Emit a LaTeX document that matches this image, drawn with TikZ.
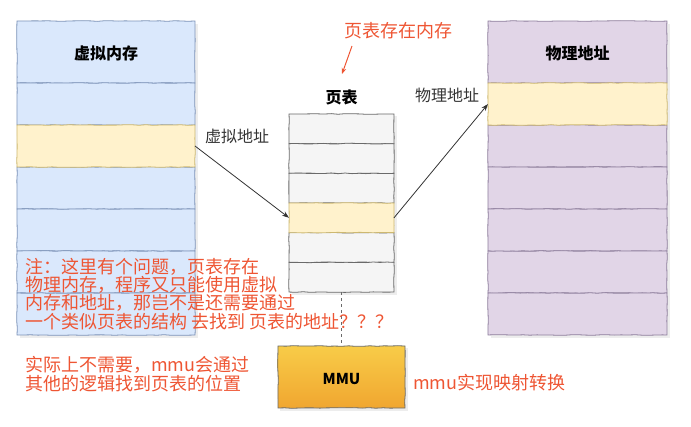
\documentclass[tikz,border=0pt]{standalone}
\usepackage{fontspec}
\setmainfont{Noto Sans CJK SC}
\usetikzlibrary{arrows.meta,decorations.pathmorphing,backgrounds}
\definecolor{vfill}{HTML}{DAE8FC}
\definecolor{vline}{HTML}{7D93B8}
\definecolor{yfill}{HTML}{FFF2CC}
\definecolor{yline}{HTML}{CDB870}
\definecolor{pfill}{HTML}{E1D5E7}
\definecolor{pline}{HTML}{8E7E9C}
\definecolor{gfill}{HTML}{F5F5F5}
\definecolor{gline}{HTML}{6A6A6A}
\definecolor{mtop}{HTML}{F8CC48}
\definecolor{mbot}{HTML}{F0A630}
\definecolor{noteRed}{HTML}{EE5533}
\definecolor{labgray}{HTML}{333333}
\begin{document}
\begin{tikzpicture}[x=1pt,y=-1pt,
  rough/.style={decorate, decoration={random steps, segment length=7pt, amplitude=0.35pt}},
  cell/.style={rectangle, draw, inner sep=0pt, outer sep=0pt, line width=0.8pt, rough},
  vcell/.style={cell, fill=vfill, draw=vline, minimum width=178pt, minimum height=42pt},
  pcell/.style={cell, fill=pfill, draw=pline, minimum width=179pt, minimum height=42pt},
  tcell/.style={cell, fill=gfill, draw=gline, minimum width=105pt, minimum height=29.7pt},
  ycell/.style={fill=yfill, draw=yline},
  headtxt/.style={font=\bfseries\fontsize{16}{18}\selectfont, text=black},
  labtxt/.style={font=\fontsize{16}{18}\selectfont, text=labgray},
  notetxt/.style={font=\fontsize{18}{19}\selectfont, text=noteRed, anchor=west, inner sep=0pt},
  link/.style={draw=labgray, line width=0.8pt, -{Stealth[length=7pt,width=5pt]}},
  shade box/.style={fill=black, opacity=0.07}
]
\useasboundingbox (0,0) rectangle (691,426);
% virtual memory column
\node[vcell, minimum height=62pt] (v0) at (106,52) {};
\node[headtxt] (vt) at (106,53) {虚拟内存};
\node[vcell] (v1) at (106,104) {};
\node[vcell] (v3) at (106,188) {};
\node[vcell] (v4) at (106,230) {};
\node[vcell] (v5) at (106,272) {};
\node[vcell] (v6) at (106,314) {};
\node[vcell, ycell] (v2) at (106,146) {};
% physical memory column
\node[pcell, minimum height=62pt] (r0) at (577.5,52) {};
\node[headtxt] (rt) at (577.5,53) {物理地址};
\node[pcell] (r2) at (577.5,146) {};
\node[pcell] (r3) at (577.5,188) {};
\node[pcell] (r4) at (577.5,230) {};
\node[pcell] (r5) at (577.5,272) {};
\node[pcell] (r6) at (577.5,314) {};
\node[pcell, ycell] (r1) at (577.5,104) {};
% page table
\node[tcell] (p1) at (341.5,128.8) {};
\node[tcell] (p2) at (341.5,158.5) {};
\node[tcell] (p3) at (341.5,188.2) {};
\node[tcell] (p5) at (341.5,247.5) {};
\node[tcell] (p6) at (341.5,277.2) {};
\node[tcell, ycell] (p4) at (341.5,217.8) {};
\node[headtxt] (pt) at (341.5,97) {页表};
% MMU
\node[rectangle, draw=gline, line width=0.8pt, top color=mtop, bottom color=mbot, rough,
      minimum width=127pt, minimum height=62pt, inner sep=0pt] (mmu) at (341.5,377) {};
\node[font=\bfseries\fontsize{15}{17}\selectfont] (mmut) at (341.5,379) {MMU};
% soft shadows
\begin{scope}[on background layer]
  \fill[shade box] ([shift={(2.5,2.5)}]v0.north west) rectangle ([shift={(2.5,2.5)}]v6.south east);
  \fill[shade box] ([shift={(2.5,2.5)}]r0.north west) rectangle ([shift={(2.5,2.5)}]r6.south east);
  \fill[shade box] ([shift={(2.5,2.5)}]p1.north west) rectangle ([shift={(2.5,2.5)}]p6.south east);
  \fill[shade box] ([shift={(2.5,2.5)}]mmu.north west) rectangle ([shift={(2.5,2.5)}]mmu.south east);
\end{scope}
\draw[gline, dashed, line width=0.7pt] (p6.south) -- (mmu.north);
% connectors
\draw[link] (v2.east) -- (p4.west);
\draw[link] (p4.east) -- (r1.west);
\node[labtxt] (la) at (237,136) {虚拟地址};
\node[labtxt] (lb) at (447,95) {物理地址};
% red annotations
\node[font=\fontsize{18}{19}\selectfont, text=noteRed] (ptm) at (398,31) {页表存在内存};
\coordinate (ra) at (352,46);
\coordinate (rb) at (342,74);
\draw[noteRed, line width=1pt, -{Stealth[length=6pt,width=4.5pt]}] (ra) -- (rb);
\node[notetxt] (n1) at (25,267) {注：这里有个问题，页表存在};
\node[notetxt] (n2) at (25,285) {物理内存，程序又只能使用虚拟};
\node[notetxt] (n3) at (25,303) {内存和地址，那岂不是还需要通过};
\node[notetxt] (n4) at (25,322) {一个类似页表的结构 去找到 页表的地址？？？};
\node[notetxt] (n5) at (25,365) {实际上不需要，mmu会通过};
\node[notetxt] (n6) at (25,384) {其他的逻辑找到页表的位置};
\node[notetxt] (n7) at (413,383) {mmu实现映射转换};
\end{tikzpicture}
\end{document}
